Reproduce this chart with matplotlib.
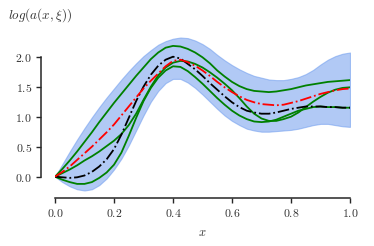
import matplotlib
matplotlib.use("Agg")
import matplotlib.pyplot as plt
from matplotlib.ticker import FuncFormatter

plt.rcParams['mathtext.fontset'] = 'cm'
plt.rcParams['font.family'] = ['DejaVu Serif']

x = [0.0, 0.025, 0.05, 0.075, 0.1, 0.125, 0.15, 0.175, 0.2, 0.225, 0.25,
     0.275, 0.3, 0.325, 0.35, 0.375, 0.4, 0.425, 0.45, 0.475, 0.5,
     0.525, 0.55, 0.575, 0.6, 0.625, 0.65, 0.675, 0.7, 0.725, 0.75,
     0.775, 0.8, 0.825, 0.85, 0.875, 0.9, 0.925, 0.95, 0.975, 1.0]

band_upper = [0.0, 0.21, 0.42, 0.62, 0.81, 0.99, 1.16, 1.32, 1.47, 1.62, 1.76,
              1.89, 2.01, 2.11, 2.2, 2.26, 2.3, 2.32, 2.31, 2.27, 2.21,
              2.13, 2.03, 1.94, 1.86, 1.79, 1.73, 1.68, 1.65, 1.62, 1.61,
              1.61, 1.63, 1.66, 1.71, 1.78, 1.87, 1.95, 2.01, 2.05, 2.07]
band_lower = [0.0, -0.09, -0.16, -0.21, -0.23, -0.21, -0.14, -0.03, 0.12, 0.3, 0.52,
              0.77, 1.02, 1.25, 1.43, 1.56, 1.63, 1.63, 1.57, 1.48, 1.37,
              1.25, 1.13, 1.02, 0.93, 0.86, 0.8, 0.77, 0.75, 0.75, 0.76,
              0.77, 0.78, 0.8, 0.83, 0.86, 0.88, 0.88, 0.86, 0.84, 0.83]

black = [0.0, -0.01, -0.02, -0.01, 0.02, 0.08, 0.17, 0.29, 0.46, 0.7, 0.98,
         1.26, 1.5, 1.7, 1.85, 1.95, 2.0, 1.97, 1.88, 1.79, 1.68,
         1.56, 1.45, 1.34, 1.24, 1.16, 1.1, 1.07, 1.05, 1.05, 1.07,
         1.1, 1.13, 1.15, 1.17, 1.17, 1.17, 1.16, 1.16, 1.15, 1.15]
red = [0.0, 0.08, 0.17, 0.28, 0.39, 0.5, 0.62, 0.74, 0.87, 1.02, 1.17,
       1.32, 1.47, 1.6, 1.72, 1.84, 1.93, 1.95, 1.91, 1.85, 1.77,
       1.68, 1.58, 1.49, 1.41, 1.34, 1.28, 1.24, 1.21, 1.2, 1.19,
       1.2, 1.23, 1.26, 1.3, 1.34, 1.38, 1.41, 1.44, 1.46, 1.47]

g1 = [0.0, 0.13, 0.27, 0.42, 0.58, 0.74, 0.91, 1.07, 1.23, 1.38, 1.53,
      1.68, 1.82, 1.96, 2.07, 2.15, 2.18, 2.17, 2.13, 2.07, 1.99,
      1.89, 1.77, 1.67, 1.58, 1.51, 1.46, 1.43, 1.42, 1.41, 1.42,
      1.44, 1.46, 1.49, 1.52, 1.54, 1.56, 1.58, 1.59, 1.6, 1.61]
g2 = [0.0, 0.06, 0.12, 0.19, 0.27, 0.34, 0.42, 0.51, 0.6, 0.71, 0.86,
      1.05, 1.28, 1.5, 1.69, 1.82, 1.9, 1.93, 1.92, 1.88, 1.82,
      1.74, 1.65, 1.55, 1.44, 1.31, 1.17, 1.05, 0.97, 0.93, 0.93,
      0.96, 1.0, 1.07, 1.16, 1.25, 1.33, 1.4, 1.45, 1.48, 1.49]
g3 = [0.0, -0.05, -0.09, -0.12, -0.12, -0.09, -0.02, 0.07, 0.2, 0.4, 0.68,
      0.98, 1.26, 1.48, 1.65, 1.77, 1.84, 1.83, 1.76, 1.66, 1.55,
      1.43, 1.31, 1.2, 1.1, 1.02, 0.96, 0.92, 0.91, 0.92, 0.95,
      1.0, 1.05, 1.1, 1.13, 1.16, 1.17, 1.16, 1.16, 1.15, 1.15]

xticks = [0.0, 0.2, 0.4, 0.6, 0.8, 1.0]
yticks = [0.0, 0.5, 1.0, 1.5, 2.0]

fig = plt.figure(figsize=(3.74, 2.46), dpi=100)
ax = fig.add_axes([55/374, 1-198.3/246, 295/374, (198.3-35.7)/246])

ax.fill_between(x, band_lower, band_upper, color='cornflowerblue', alpha=0.5, lw=0.8)
for g in (g1, g2, g3):
    ax.plot(x, g, color='green', lw=1.3)
ax.plot(x, black, color='black', ls='-.', lw=1.3)
ax.plot(x, red, color='red', ls='-.', lw=1.3)

ax.set_xlim(0, 1)
ax.set_ylim(-0.36, 2.35)
ax.set_xticks(xticks)
ax.set_yticks(yticks)
fmt = FuncFormatter(lambda v, p: f'${v:.1f}$')
ax.xaxis.set_major_formatter(fmt)
ax.yaxis.set_major_formatter(fmt)

for s in ('top', 'right'):
    ax.spines[s].set_visible(False)
ax.spines['left'].set_position(('outward', 10))
ax.spines['left'].set_bounds(0, 2)
ax.spines['bottom'].set_bounds(0, 1)
for s in ('left', 'bottom'):
    ax.spines[s].set_color('#262626')
    ax.spines[s].set_linewidth(1.1)
ax.tick_params(axis='both', direction='out', length=3.5, width=1.0,
               color='#262626', labelcolor='#333333', labelsize=8.5, pad=3)

ax.set_xlabel('$x$', fontsize=9, color='#333333', labelpad=4)
fig.text(8/374, 1-15/246, r'$log(a(x,\xi))$', fontsize=9.5, color='#333333',
         ha='left', va='center')

fig.savefig('out.png', dpi=100)
